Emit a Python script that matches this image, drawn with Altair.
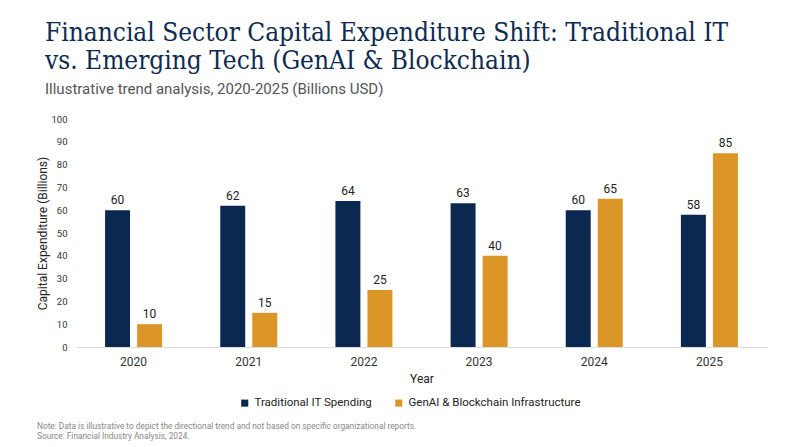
import altair as alt
import pandas as pd

years = ["2020", "2021", "2022", "2023", "2024", "2025"]
traditional = [60, 62, 64, 63, 60, 58]
emerging = [10, 15, 25, 40, 65, 85]
series_names = ["Traditional IT Spending", "GenAI & Blockchain Infrastructure"]
colors = ["#0b2850", "#dc9527"]
note_lines = [
    "Note: Data is illustrative to depict the directional trend and not based on specific organizational reports.",
    "Source: Financial Industry Analysis, 2024.",
]

rows = []
for y, t, e in zip(years, traditional, emerging):
    rows.append({"Year": y, "Series": series_names[0], "Value": t})
    rows.append({"Year": y, "Series": series_names[1], "Value": e})
df = pd.DataFrame(rows)

x_enc = alt.X("Year:N", title="Year",
              scale=alt.Scale(paddingInner=0.505, paddingOuter=0.2525),
              axis=alt.Axis(labelAngle=0, labelFontSize=12, labelColor="#333333",
                            labelPadding=9, titleFontSize=12, titleColor="#222222",
                            titleFontWeight="normal", titlePadding=6, ticks=False,
                            domain=True, domainColor="#dddddd", grid=False))
y_enc = alt.Y("Value:Q", title="Capital Expenditure (Billions)",
              scale=alt.Scale(domain=[0, 100]),
              axis=alt.Axis(values=list(range(0, 101, 10)), labelFontSize=9.5,
                            labelColor="#333333", labelPadding=9, ticks=False,
                            labelOverlap=False,
                            domain=False, grid=False, titleFontSize=12,
                            titleColor="#222222", titleFontWeight="normal",
                            titlePadding=1))
xoff = alt.XOffset("Series:N", sort=series_names,
                   scale=alt.Scale(paddingInner=0.22, paddingOuter=0))
color_enc = alt.Color("Series:N", sort=series_names,
                      scale=alt.Scale(domain=series_names, range=colors),
                      legend=alt.Legend(title=None, orient="none", direction="horizontal",
                                        legendX=163, legendY=278, symbolType="square",
                                        symbolSize=50, labelFontSize=11.5, labelLimit=400,
                                        labelColor="#222222", columnPadding=20,
                                        symbolOpacity=1))

base = alt.Chart(df)
bars = base.mark_bar().encode(x=x_enc, y=y_enc, xOffset=xoff, color=color_enc)
labels = base.mark_text(dy=-3, fontSize=12, color="#222222", baseline="bottom").encode(
    x=x_enc, y=y_enc, xOffset=xoff, text=alt.Text("Value:Q"))

foot1 = alt.Chart(pd.DataFrame({"line": [note_lines[0]]})).mark_text(
    align="left", fontSize=8.3, color="#888888").encode(
    x=alt.value(-39), y=alt.value(308), text="line:N")
foot2 = alt.Chart(pd.DataFrame({"line": [note_lines[1]]})).mark_text(
    align="left", fontSize=8.3, color="#888888").encode(
    x=alt.value(-39), y=alt.value(318), text="line:N")

chart = alt.layer(bars, labels, foot1, foot2).properties(
    width=691, height=228,
    padding={"left": 68, "top": 111, "right": 25, "bottom": 100},
    autosize=alt.AutoSizeParams(type="none"),
    title=alt.TitleParams(
        text=["Financial Sector Capital Expenditure Shift: Traditional IT",
              "vs. Emerging Tech (GenAI & Blockchain)"],
        subtitle="Illustrative trend analysis, 2020-2025 (Billions USD)",
        anchor="start", frame="group", dx=-31, offset=17,
        font="DejaVu Serif Condensed", fontSize=26, fontWeight="normal", color="#0d2a4f",
        lineHeight=28,
        subtitleFont="Roboto", subtitleFontSize=15, subtitleColor="#555555",
        subtitlePadding=8,
    ),
).configure(font="Roboto").configure_view(strokeWidth=0, stroke="transparent")

chart.save("out.html", embed_options={"renderer": "svg", "actions": False})
